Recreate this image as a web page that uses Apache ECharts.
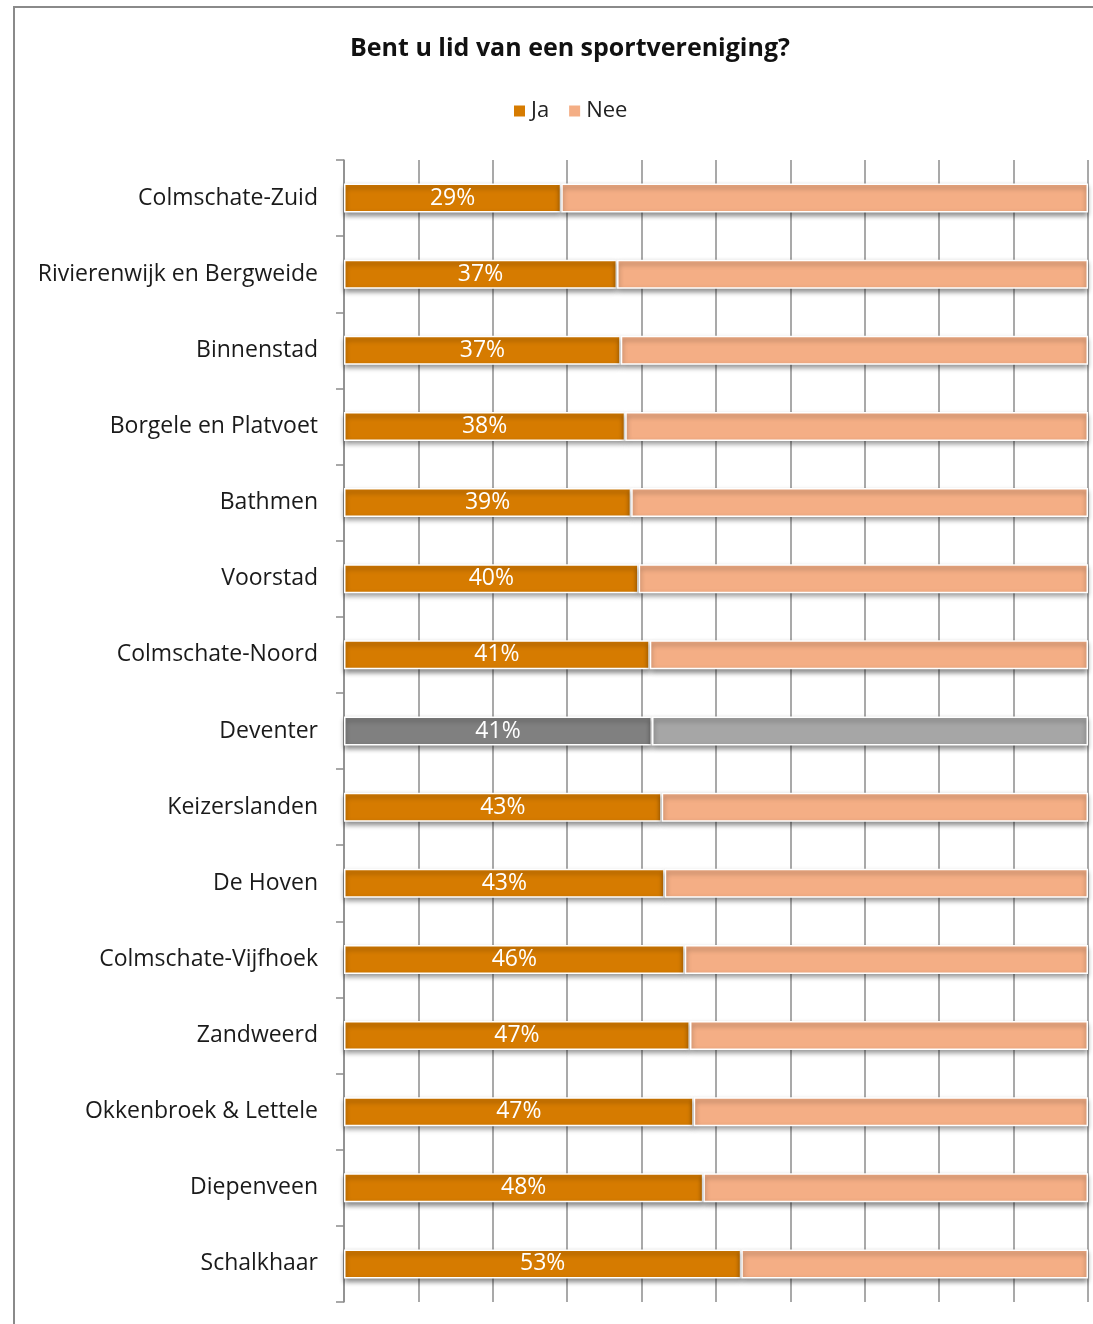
<!DOCTYPE html>
<html><head><meta charset="utf-8">
<script src="https://cdn.jsdelivr.net/npm/echarts@6/dist/echarts.min.js"></script>
<style>html,body{margin:0;padding:0;background:#fff}#c{width:1093px;height:1324px}</style>
</head><body><div id="c"></div>
<script>
const categories = ["Colmschate-Zuid","Rivierenwijk en Bergweide","Binnenstad","Borgele en Platvoet","Bathmen","Voorstad","Colmschate-Noord","Deventer","Keizerslanden","De Hoven","Colmschate-Vijfhoek","Zandweerd","Okkenbroek & Lettele","Diepenveen","Schalkhaar"];
const ja = [29.2,36.7,37.2,37.8,38.6,39.6,41.1,41.4,42.7,43.1,45.8,46.5,47.0,48.3,53.4];
const nee = ja.map(v => 100 - v);
const highlight = "Deventer";

const FONT = "'Open Sans', 'Noto Sans', sans-serif";
const shadow = {shadowColor:'rgba(0,0,0,0.45)', shadowBlur:5, shadowOffsetY:3, shadowOffsetX:0};

function mk(vals, hcolor){
  return vals.map((v,i)=> categories[i]===highlight ? {value:v, itemStyle:{color:hcolor}} : v);
}

const chart = echarts.init(document.getElementById('c'), null, {renderer:'canvas'});
chart.setOption({
  backgroundColor:'#fff',
  animation:false,
  title:{text:'Bent u lid van een sportvereniging?', left:565, textAlign:'center', top:31,
    textStyle:{fontFamily:FONT, fontSize:25, fontWeight:'bold', color:'#111'}},
  legend:{top:95, left:507, itemWidth:13, itemHeight:13, itemGap:18, icon:'rect',
    textStyle:{fontFamily:FONT, fontSize:22, color:'#222'},
    data:['Ja','Nee']},
  graphic:[{type:'rect', shape:{x:14,y:7,width:1200,height:1400}, style:{fill:'none', stroke:'#8a8a8a', lineWidth:2}, silent:true, z:-10}],
  grid:{left:344, right:5, top:160, bottom:22, containLabel:false},
  xAxis:{type:'value', min:0, max:100, interval:10,
    axisLabel:{show:false}, axisLine:{show:false}, axisTick:{show:false},
    splitLine:{show:true, lineStyle:{color:'#8c8c8c', width:1.5}}},
  yAxis:{type:'category', data:categories, inverse:true,
    axisLine:{show:true, lineStyle:{color:'#8c8c8c', width:1.5}},
    axisTick:{show:true, length:8, lineStyle:{color:'#8c8c8c', width:1.5}},
    axisLabel:{fontFamily:FONT, fontSize:23, color:'#1a1a1a', margin:26}},
  series:[
    {name:'Ja', type:'bar', stack:'t', data:mk(ja,'#808080'), barWidth:29,
      itemStyle:Object.assign({color:'#D67B00', borderColor:'#fff', borderWidth:1.5}, shadow),
      label:{show:true, position:'inside', color:'#fff', fontFamily:FONT, fontSize:23,
        formatter:p=>Math.round(p.value)+'%'}},
    {name:'Nee', type:'bar', stack:'t', data:mk(nee,'#A6A6A6'), barWidth:29,
      itemStyle:Object.assign({color:'#F4AE85', borderColor:'#fff', borderWidth:1.5}, shadow)}
  ]
});
</script></body></html>
